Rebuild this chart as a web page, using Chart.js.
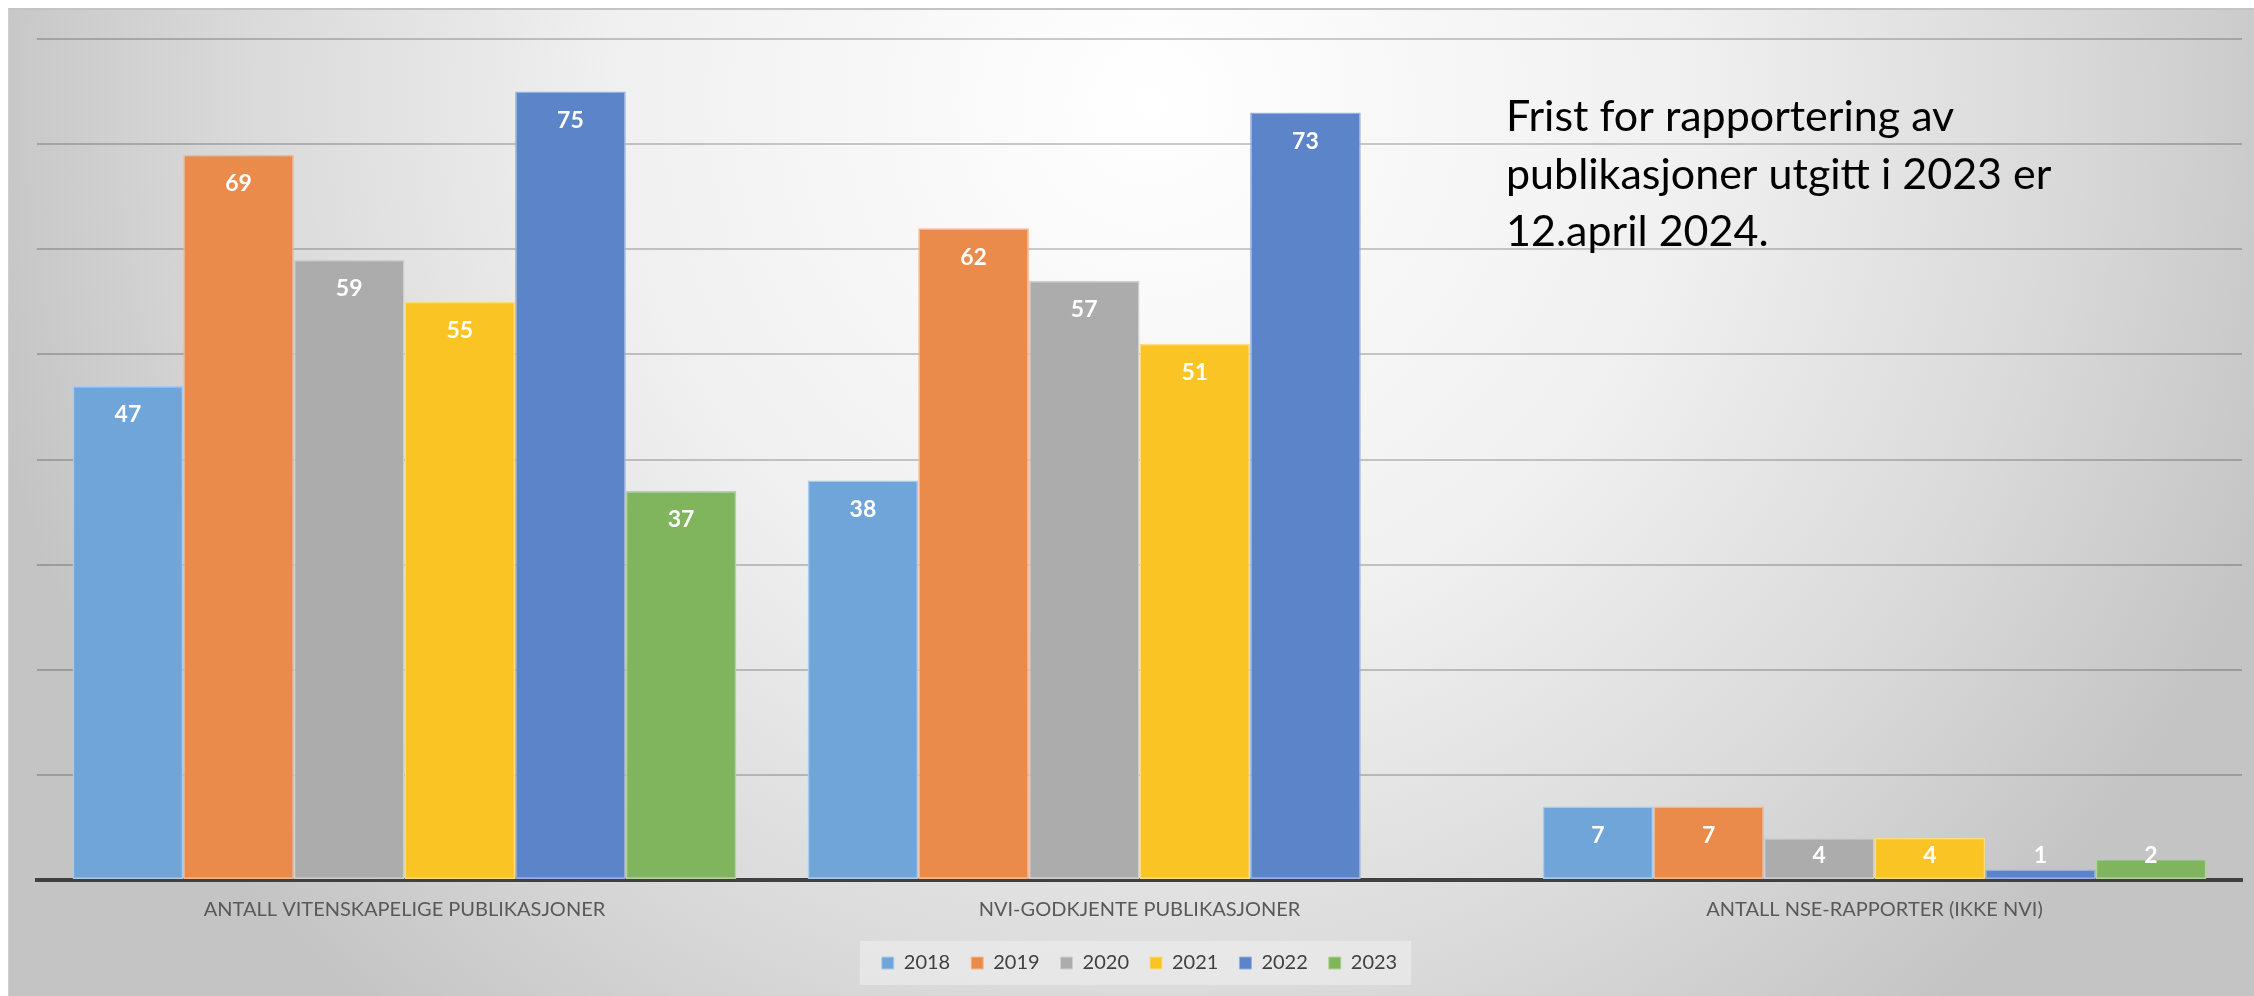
<!DOCTYPE html>
<html>
<head>
<meta charset="utf-8">
<script src="https://cdn.jsdelivr.net/npm/chart.js@4.4.1/dist/chart.umd.min.js"></script>
<style>
  html, body { margin: 0; padding: 0; background: #ffffff; overflow: hidden; }
  #wrap { position: relative; width: 2254px; height: 996px; }
  #bg {
    position: absolute; left: 8px; top: 8px; right: 0; bottom: 0;
    border-top: 2px solid #c4c4c4; border-left: 1px solid #cfcfcf;
    background: radial-gradient(circle 1200px at 1142px 92px, #ffffff 0%, #f0f0f0 45%, #dadada 75%, #c4c4c4 100%);
  }
  #c { position: absolute; left: 0; top: 0; }
</style>
</head>
<body>
<div id="wrap">
  <div id="bg"></div>
  <canvas id="c" width="2254" height="996"></canvas>
</div>
<script>
const categories = ['ANTALL VITENSKAPELIGE PUBLIKASJONER', 'NVI-GODKJENTE PUBLIKASJONER', 'ANTALL NSE-RAPPORTER (IKKE NVI)'];
const years = ['2018', '2019', '2020', '2021', '2022', '2023'];
const v2018 = [47, 38, 7];
const v2019 = [69, 62, 7];
const v2020 = [59, 57, 4];
const v2021 = [55, 51, 4];
const v2022 = [75, 73, 1];
const v2023 = [37, null, 2];
const noteLines = ['Frist for rapportering av', 'publikasjoner utgitt i 2023 er', '12.april 2024.'];
const yMax = 80;
const yStep = 10;

const seriesValues = [v2018, v2019, v2020, v2021, v2022, v2023];
const colors = ['#6fa5d8', '#ea8b4b', '#acacac', '#f9c424', '#5b84c9', '#80b55d'];
const borders = ['#a9cbea', '#f4b890', '#cfcfcf', '#fbdc80', '#97b0dd', '#b0d39b'];

const valueLabels = {
  id: 'valueLabels',
  afterDatasetsDraw(chart) {
    const ctx = chart.ctx;
    const bottom = chart.chartArea.bottom;
    ctx.save();
    ctx.font = 'bold 23px Lato';
    ctx.fillStyle = '#ffffff';
    ctx.textAlign = 'center';
    ctx.textBaseline = 'middle';
    chart.data.datasets.forEach((ds, di) => {
      const meta = chart.getDatasetMeta(di);
      meta.data.forEach((el, i) => {
        const v = ds.data[i];
        if (v === null || v === undefined) return;
        const y = Math.min(el.y + 29, bottom - 24);
        ctx.fillText(String(v), el.x, y);
      });
    });
    ctx.restore();
  }
};

const note = {
  id: 'note',
  afterDraw(chart) {
    const ctx = chart.ctx;
    ctx.save();
    ctx.font = '43px Lato';
    ctx.fillStyle = '#000000';
    ctx.textAlign = 'left';
    ctx.textBaseline = 'alphabetic';
    noteLines.forEach((t, i) => ctx.fillText(t, 1506, 131 + i * 57.5));
    ctx.restore();
  }
};

const legendBg = {
  id: 'legendBg',
  beforeDraw(chart) {
    const lg = chart.legend;
    if (!lg || !lg.legendHitBoxes || !lg.legendHitBoxes.length) return;
    const hb = lg.legendHitBoxes;
    let x0 = Infinity, x1 = -Infinity, y0 = Infinity, y1 = -Infinity;
    hb.forEach(b => { x0 = Math.min(x0, b.left); x1 = Math.max(x1, b.left + b.width); y0 = Math.min(y0, b.top); y1 = Math.max(y1, b.top + b.height); });
    const ctx = chart.ctx;
    ctx.save();
    ctx.fillStyle = 'rgba(240,240,240,0.55)';
    ctx.fillRect(x0 - 22, y0 - 12, (x1 - x0) + 36, (y1 - y0) + 24);
    ctx.restore();
  }
};

new Chart(document.getElementById('c'), {
  type: 'bar',
  data: {
    labels: categories,
    datasets: years.map((y, i) => ({
      label: y,
      data: seriesValues[i],
      backgroundColor: colors[i],
      borderColor: borders[i],
      borderWidth: 1.5,
      borderSkipped: false,
      categoryPercentage: 0.903,
      barPercentage: 1.0
    }))
  },
  options: {
    responsive: false,
    animation: false,
    devicePixelRatio: 1,
    layout: { padding: { left: 37, right: 12, top: 39, bottom: 13 } },
    plugins: {
      tooltip: { enabled: false },
      legend: {
        position: 'bottom',
        labels: {
          font: { family: 'Lato', size: 20 },
          color: '#404040',
          boxWidth: 12,
          boxHeight: 12,
          padding: 21,
          generateLabels(chart) {
            return chart.data.datasets.map((ds, i) => ({
              text: ds.label,
              fillStyle: colors[i],
              strokeStyle: borders[i],
              lineWidth: 1,
              fontColor: '#404040',
              datasetIndex: i,
              hidden: false
            }));
          }
        }
      }
    },
    scales: {
      x: {
        grid: { display: false },
        border: { display: true, color: '#404040', width: 4 },
        ticks: { font: { family: 'Lato', size: 20, lineHeight: 0.8 }, color: '#595959', padding: 14, maxRotation: 0 }
      },
      y: {
        min: 0, max: yMax,
        ticks: { display: false, stepSize: yStep },
        grid: { color: 'rgba(0,0,0,0.2)', lineWidth: 2, drawTicks: false },
        border: { display: false }
      }
    }
  },
  plugins: [legendBg, valueLabels, note]
});
</script>
</body>
</html>
